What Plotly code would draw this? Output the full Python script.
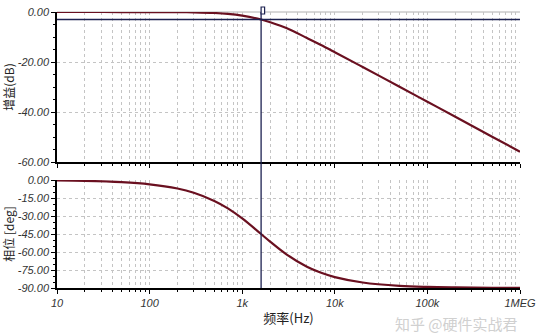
import plotly.graph_objects as go
from plotly.subplots import make_subplots

# Data
freq = [10, 20, 50, 100, 200, 300, 500, 700, 1000, 1600, 2000, 3000, 5000, 7000,
        10000, 20000, 50000, 100000, 200000, 500000, 1000000]
gain_db = [0.00, 0.00, -0.01, -0.02, -0.07, -0.15, -0.40, -0.75, -1.45, -3.0, -4.1,
           -6.4, -10.4, -13.1, -16.1, -22.0, -29.9, -35.9, -41.9, -49.9, -55.9]
phase_deg = [-0.4, -0.7, -1.8, -3.6, -7.1, -10.6, -17.4, -23.6, -32.0, -45.0, -51.3,
             -61.9, -72.3, -77.1, -80.9, -85.4, -88.2, -89.1, -89.5, -89.8, -89.9]

x_tickvals = [10, 100, 1000, 10000, 100000, 1000000]
x_ticktext = ["10", "100", "1k", "10k", "100k", "1MEG"]
gain_tickvals = [0, -20, -40, -60]
gain_ticktext = ["0.00", "-20.00", "-40.00", "-60.00"]
phase_tickvals = [0, -15, -30, -45, -60, -75, -90]
phase_ticktext = ["0.00", "-15.00", "-30.00", "-45.00", "-60.00", "-75.00", "-90.00"]
cursor_freq = 1600
cursor_gain = -3.0

curve_color = "#6a1020"
cursor_color = "#1c2150"
grid_color = "#c4c4c4"
dash = "3px,3px"
tick_font = dict(family="Liberation Sans, Arial", size=11, color="#333333", style="italic")
cjk = "Noto Sans CJK SC"

fig = make_subplots(rows=2, cols=1, shared_xaxes=False,
                    row_heights=[150, 108], vertical_spacing=18 / 276)

fig.add_trace(go.Scatter(x=freq, y=gain_db, mode="lines", line=dict(color=curve_color, width=2.2, shape="spline"),
                         showlegend=False, hoverinfo="skip"), row=1, col=1)
fig.add_trace(go.Scatter(x=freq, y=phase_deg, mode="lines", line=dict(color=curve_color, width=2.2, shape="spline"),
                         showlegend=False, hoverinfo="skip"), row=2, col=1)

xcommon = dict(type="log", range=[1, 6], showgrid=True, gridcolor=grid_color, griddash=dash, gridwidth=1,
               showline=True, linecolor="black", linewidth=1.5, ticks="outside", ticklen=4,
               tickcolor="black", tickvals=x_tickvals, automargin=False,
               minor=dict(dtick="D1", showgrid=True, gridcolor=grid_color, griddash=dash, gridwidth=1,
                          ticks="outside", ticklen=2, tickcolor="black"),
               zeroline=False)
fig.update_xaxes(**xcommon, row=1, col=1, showticklabels=False)
fig.update_xaxes(**xcommon, row=2, col=1, ticktext=x_ticktext, tickfont=tick_font,
                 title=dict(text="频率(Hz)", font=dict(family=cjk, size=13, color="#222"), standoff=6))

ycommon = dict(showgrid=True, gridcolor=grid_color, griddash=dash, gridwidth=1, showline=True,
               linecolor="black", linewidth=1.5, ticks="outside", ticklen=4, tickcolor="black",
               tickfont=tick_font, zeroline=False, automargin=False)
fig.update_yaxes(**ycommon, row=1, col=1, range=[-60, 0], tickvals=gain_tickvals, ticktext=gain_ticktext,
                 minor=dict(dtick=5, ticks="outside", ticklen=2, tickcolor="black", showgrid=False),
                 title=dict(text="增益(dB)", font=dict(family=cjk, size=12, color="#222"), standoff=2))
fig.update_yaxes(**ycommon, row=2, col=1, range=[-90, 0], tickvals=phase_tickvals, ticktext=phase_ticktext,
                 minor=dict(dtick=5, ticks="outside", ticklen=2, tickcolor="black", showgrid=False),
                 title=dict(text="相位 [deg]", font=dict(family=cjk, size=12, color="#222"), standoff=2))

# top border of the gain plot
fig.add_shape(type="line", xref="x domain", yref="y domain", x0=0, x1=1, y0=1, y1=1, layer="below",
              line=dict(color="#b0b0b0", width=1))
# cursor lines
fig.add_shape(type="line", xref="x", yref="paper", x0=cursor_freq, x1=cursor_freq, y0=0, y1=1,
              line=dict(color=cursor_color, width=1.3))
fig.add_shape(type="line", xref="x domain", yref="y", x0=0, x1=1, y0=cursor_gain, y1=cursor_gain,
              line=dict(color=cursor_color, width=1.3))
# cursor handle (small square at top of cursor)
fig.add_shape(type="rect", xref="x", yref="y domain", xsizemode="pixel", ysizemode="pixel",
              xanchor=cursor_freq, yanchor=1, x0=-3.5, x1=3.5, y0=-2, y1=5,
              fillcolor="white", line=dict(color=cursor_color, width=1.2))

fig.add_annotation(text="知乎 @硬件实战君", xref="paper", yref="paper", x=1.0, y=-0.085,
                   xanchor="right", yanchor="top", showarrow=False,
                   font=dict(family=cjk, size=15, color="#d0d0d0"))

fig.update_layout(width=546, height=335, margin=dict(l=57, r=26, t=12, b=47),
                  paper_bgcolor="white", plot_bgcolor="white")

fig.write_html("out.html")
